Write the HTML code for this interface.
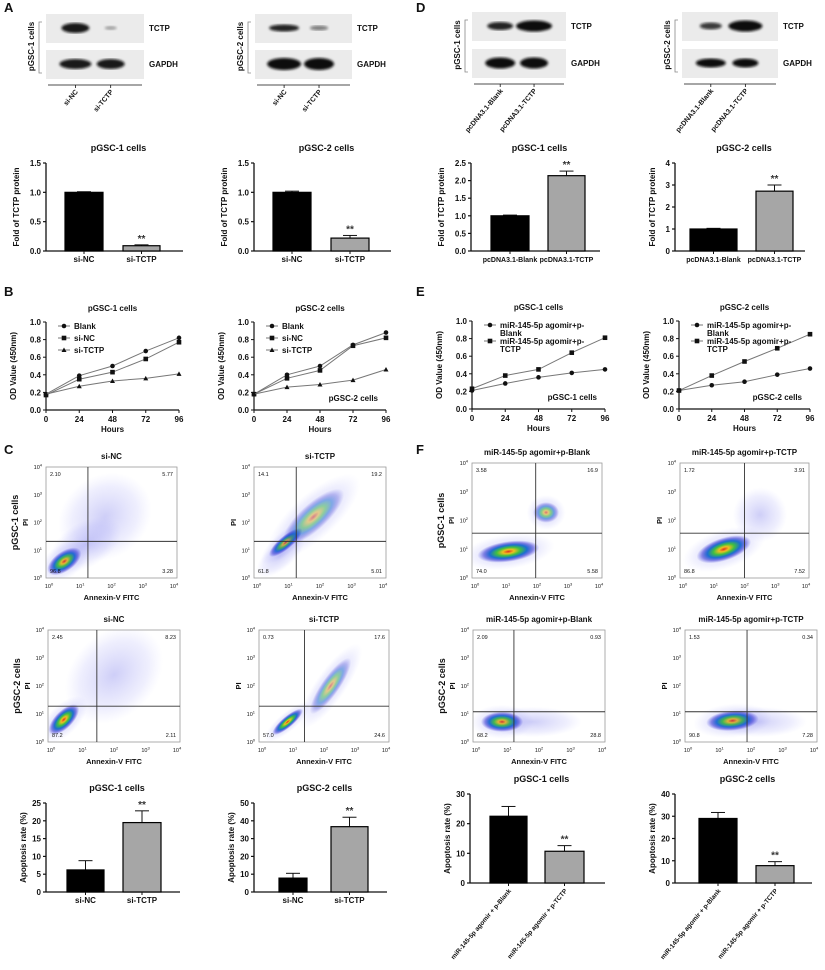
<!DOCTYPE html>
<html><head><meta charset="utf-8"><style>
body{margin:0;background:#fff}
svg{display:block;font-family:"Liberation Sans",Arial,sans-serif;font-weight:bold}
</style></head><body>
<svg id="fig" width="825" height="970" viewBox="0 0 825 970" xmlns="http://www.w3.org/2000/svg">
<defs>
<filter id="blur1"><feGaussianBlur stdDeviation="2.2"/></filter>
<filter id="blur2"><feGaussianBlur stdDeviation="1.2"/></filter>
<radialGradient id="dens">
<stop offset="0" stop-color="#e0301e"/><stop offset="0.18" stop-color="#f0c020"/><stop offset="0.38" stop-color="#40c040"/><stop offset="0.6" stop-color="#1a6fd0"/><stop offset="0.8" stop-color="#3030d0" stop-opacity="0.55"/><stop offset="1" stop-color="#4040e0" stop-opacity="0"/>
</radialGradient>
<radialGradient id="halo">
<stop offset="0" stop-color="#3a3ae0" stop-opacity="0.45"/><stop offset="0.7" stop-color="#5a5af0" stop-opacity="0.18"/><stop offset="1" stop-color="#8080ff" stop-opacity="0"/>
</radialGradient>
</defs>
</svg>
<script>
// ---------- DATA ----------
const barCatsA = ["si-NC","si-TCTP"];
const barA1Vals = [1.0, 0.09]; const barA1Err = [0.01, 0.015];
const barA2Vals = [1.0, 0.22]; const barA2Err = [0.02, 0.045];
const barA1Ticks = ["0.0","0.5","1.0","1.5"];
const barCatsD = ["pcDNA3.1-Blank","pcDNA3.1-TCTP"];
const barD1Vals = [1.0, 2.14]; const barD1Err = [0.02, 0.13];
const barD1Ticks = ["0.0","0.5","1.0","1.5","2.0","2.5"];
const barD2Vals = [1.0, 2.72]; const barD2Err = [0.03, 0.28];
const barD2Ticks = ["0","1","2","3","4"];
const hours = [0,24,48,72,96];
const hourTicks = ["0","24","48","72","96"];
const odTicks = ["0.0","0.2","0.4","0.6","0.8","1.0"];
const b1Blank = [0.18,0.39,0.50,0.67,0.82];
const b1NC = [0.17,0.35,0.43,0.58,0.77];
const b1TCTP = [0.18,0.27,0.33,0.36,0.41];
const b2Blank = [0.18,0.40,0.50,0.74,0.88];
const b2NC = [0.18,0.36,0.45,0.73,0.82];
const b2TCTP = [0.18,0.26,0.29,0.34,0.46];
const e1Blank = [0.21,0.29,0.36,0.41,0.45];
const e1TCTP = [0.23,0.38,0.45,0.64,0.81];
const e2Blank = [0.21,0.27,0.31,0.39,0.46];
const e2TCTP = [0.21,0.38,0.54,0.69,0.85];
const apoCatsC = ["si-NC","si-TCTP"];
const apoC1Vals = [6.2, 19.5]; const apoC1Err = [2.6, 3.3];
const apoC1Ticks = ["0","5","10","15","20","25"];
const apoC2Vals = [7.8, 36.7]; const apoC2Err = [2.7, 5.3];
const apoC2Ticks = ["0","10","20","30","40","50"];
const apoCatsF = ["miR-145-5p agomir + p-Blank","miR-145-5p agomir + p-TCTP"];
const apoF1Vals = [22.5, 10.7]; const apoF1Err = [3.3, 1.9];
const apoF1Ticks = ["0","10","20","30"];
const apoF2Vals = [29.0, 7.8]; const apoF2Err = [2.7, 1.8];
const apoF2Ticks = ["0","10","20","30","40"];
const quadC1 = ["2.10","5.77","96.8","3.28"];
const quadC2 = ["14.1","19.2","61.8","5.01"];
const quadC3 = ["2.45","8.23","87.2","2.11"];
const quadC4 = ["0.73","17.6","57.0","24.6"];
const quadF1 = ["3.58","16.9","74.0","5.58"];
const quadF2 = ["1.72","3.91","86.8","7.52"];
const quadF3 = ["2.09","0.93","68.2","28.8"];
const quadF4 = ["1.53","0.34","90.8","7.28"];

// ---------- HELPERS ----------
const NS="http://www.w3.org/2000/svg";
const svg=document.getElementById('fig');
function mk(tag,attrs,parent){const e=document.createElementNS(NS,tag);for(const k in attrs)e.setAttribute(k,attrs[k]);(parent||svg).appendChild(e);return e;}
function txt(x,y,s,size,anchor,parent,extra){const t=mk('text',Object.assign({x:x,y:y,'font-size':size,'text-anchor':anchor||'middle',fill:'#111'},extra||{}),parent);t.textContent=s;return t;}
function line(x1,y1,x2,y2,w,parent,col){return mk('line',{x1:x1,y1:y1,x2:x2,y2:y2,stroke:col||'#111','stroke-width':w||1},parent);}

[["A",4,12],["B",4,296],["C",4,454],["D",416,12],["E",416,296],["F",416,454]].forEach(p=>{
  const t=txt(p[1],p[2],p[0],13,'start');
  
  
});

// ---------- BLOTS ----------
function blot(cfg){
  const g=mk('g',{});
  
  
  [[cfg.y1,cfg.tctp],[cfg.y2,cfg.gapdh]].forEach((row,ri)=>{
    const r=mk('rect',{x:cfg.x,y:row[0],width:cfg.w,height:29,fill:'#ebebeb'},g);
    
    
    row[1].forEach((b,i)=>{
      const cx=cfg.x+cfg.w*(i?0.66:0.3);
      const e=mk('ellipse',{cx:cx,cy:row[0]+14,rx:b[0],ry:b[1],fill:'#111','fill-opacity':b[2],filter:'url(#blur2)'},g);
      
      
    });
  });
  txt(cfg.x+cfg.w+5,cfg.y1+17,'TCTP',8,'start',g);
  txt(cfg.x+cfg.w+5,cfg.y2+17,'GAPDH',8,'start',g);
  mk('path',{d:`M${cfg.x-4},${cfg.y1+8} h-3 V${cfg.y2+23} h3`,fill:'none',stroke:'#888','stroke-width':0.8},g);
  txt(0,0,cfg.cell,8,'middle',g,{transform:`translate(${cfg.x-12},${(cfg.y1+cfg.y2+29)/2}) rotate(-90)`});
  line(cfg.x+2,cfg.y2+35,cfg.x+cfg.w-2,cfg.y2+35,0.8,g);
  cfg.lanes.forEach((l,i)=>{
    const lx=cfg.x+cfg.w*(i?0.66:0.3);
    line(lx,cfg.y2+35,lx,cfg.y2+38,0.8,g);
    txt(0,0,l,7,'end',g,{transform:`translate(${lx+3},${cfg.y2+42}) rotate(-50)`});
  });
}
blot({name:'blot-a-pgsc1',x:46,w:98,y1:14,y2:50,cell:'pGSC-1 cells',tctp:[[14,5,0.95],[6,2,0.3]],gapdh:[[16,5,0.95],[14,5,0.95]],lanes:barCatsA});
blot({name:'blot-a-pgsc2',x:255,w:97,y1:14,y2:50,cell:'pGSC-2 cells',tctp:[[15,3.5,0.9],[9,2.5,0.5]],gapdh:[[17,6,1],[15,6,1]],lanes:barCatsA});
blot({name:'blot-d-pgsc1',x:472,w:94,y1:12,y2:49,cell:'pGSC-1 cells',tctp:[[13,4,0.9],[18,5.5,1]],gapdh:[[15,5.5,1],[14,5.5,1]],lanes:barCatsD});
blot({name:'blot-d-pgsc2',x:682,w:96,y1:12,y2:49,cell:'pGSC-2 cells',tctp:[[11,3.5,0.8],[17,5.5,1]],gapdh:[[15,4.5,1],[13,4.5,1]],lanes:barCatsD});

// ---------- BAR CHARTS ----------
function barChart(cfg,vals,errs,ticks,cats){
  const g=mk('g',{});
  
  
  const max=parseFloat(ticks[ticks.length-1]);
  const ys=v=>cfg.y0-(v/max)*(cfg.y0-cfg.yT);
  txt((cfg.x0+cfg.xE)/2+4,cfg.yT-12,cfg.title,9,'middle',g);
  line(cfg.x0,cfg.yT,cfg.x0,cfg.y0,1.3,g);
  line(cfg.x0,cfg.y0,cfg.xE,cfg.y0,1.3,g);
  ticks.forEach(t=>{const y=ys(parseFloat(t));line(cfg.x0-3,y,cfg.x0,y,1.2,g);txt(cfg.x0-5,y+3,t,8,'end',g);});
  txt(0,0,cfg.ylab,8,'middle',g,{transform:`translate(${cfg.x0-cfg.ylOff},${(cfg.yT+cfg.y0)/2}) rotate(-90)`});
  vals.forEach((v,i)=>{
    const b=cfg.bars[i];const cx=(b[0]+b[1])/2;
    const eTop=ys(v+errs[i]);
    line(cx,ys(v),cx,eTop,1,g);line(cx-7,eTop,cx+7,eTop,1,g);
    const r=mk('rect',{x:b[0],y:ys(v),width:b[1]-b[0],height:cfg.y0-ys(v),fill:i?'#a6a6a6':'#000',stroke:'#000','stroke-width':1.2},g);
    
    
    line(cx,cfg.y0,cx,cfg.y0+3,1,g);
    if(cfg.rot) txt(0,0,cats[i],6.5,'end',g,{transform:`translate(${cx+3},${cfg.y0+8}) rotate(-50)`});
    else txt(cx,cfg.y0+11,cats[i],cfg.lf||8,'middle',g);
    if(i===cfg.star) txt(cx,eTop-3,'**',10,'middle',g,{fill:'#333'});
  });
}
barChart({name:'bar-a-pgsc1',title:'pGSC-1 cells',x0:46,xE:183,yT:163,y0:251,bars:[[65,103],[123,160]],ylab:'Fold of TCTP protein',ylOff:27,star:1},barA1Vals,barA1Err,barA1Ticks,barCatsA);
barChart({name:'bar-a-pgsc2',title:'pGSC-2 cells',x0:254,xE:391,yT:163,y0:251,bars:[[273,311],[331,369]],ylab:'Fold of TCTP protein',ylOff:27,star:1},barA2Vals,barA2Err,barA1Ticks,barCatsA);
barChart({name:'bar-d-pgsc1',title:'pGSC-1 cells',x0:471,xE:600,yT:163,y0:251,bars:[[491,529],[548,585]],ylab:'Fold of TCTP protein',ylOff:27,star:1,lf:7},barD1Vals,barD1Err,barD1Ticks,barCatsD);
barChart({name:'bar-d-pgsc2',title:'pGSC-2 cells',x0:675,xE:805,yT:163,y0:251,bars:[[690,737],[756,793]],ylab:'Fold of TCTP protein',ylOff:20,star:1,lf:7},barD2Vals,barD2Err,barD2Ticks,barCatsD);
barChart({name:'apoptosis-c-pgsc1',title:'pGSC-1 cells',x0:46,xE:180,yT:803,y0:892,bars:[[67,104],[123,161]],ylab:'Apoptosis rate (%)',ylOff:20,star:1},apoC1Vals,apoC1Err,apoC1Ticks,apoCatsC);
barChart({name:'apoptosis-c-pgsc2',title:'pGSC-2 cells',x0:254,xE:387,yT:803,y0:892,bars:[[279,307],[331,368]],ylab:'Apoptosis rate (%)',ylOff:20,star:1},apoC2Vals,apoC2Err,apoC2Ticks,apoCatsC);
barChart({name:'apoptosis-f-pgsc1',title:'pGSC-1 cells',x0:470,xE:605,yT:794,y0:883,bars:[[490,527],[545,584]],ylab:'Apoptosis rate (%)',ylOff:20,star:1,rot:1},apoF1Vals,apoF1Err,apoF1Ticks,apoCatsF);
barChart({name:'apoptosis-f-pgsc2',title:'pGSC-2 cells',x0:675,xE:812,yT:794,y0:883,bars:[[699,737],[756,794]],ylab:'Apoptosis rate (%)',ylOff:20,star:1,rot:1},apoF2Vals,apoF2Err,apoF2Ticks,apoCatsF);

// ---------- LINE CHARTS ----------
function lineChart(cfg,series,labels,markers){
  const g=mk('g',{});
  
  
  const xs=h=>cfg.x0+(h/96)*(cfg.x96-cfg.x0);
  const ys=v=>cfg.y0-v*(cfg.y0-cfg.y1);
  txt((cfg.x0+cfg.x96)/2,cfg.y1-11,cfg.title,8,'middle',g);
  line(cfg.x0,cfg.y1,cfg.x0,cfg.y0,1.2,g);line(cfg.x0,cfg.y0,cfg.x96,cfg.y0,1.2,g);
  odTicks.forEach(t=>{const y=ys(parseFloat(t));line(cfg.x0-3,y,cfg.x0,y,1,g);txt(cfg.x0-5,y+3,t,8,'end',g);});
  hours.forEach((h,i)=>{line(xs(h),cfg.y0,xs(h),cfg.y0+3,1,g);txt(xs(h),cfg.y0+12,hourTicks[i],8,'middle',g);});
  txt((cfg.x0+cfg.x96)/2,cfg.y0+22,'Hours',8,'middle',g);
  txt(0,0,'OD Value (450nm)',8,'middle',g,{transform:`translate(${cfg.x0-30},${(cfg.y0+cfg.y1)/2}) rotate(-90)`});
  if(cfg.note) txt(cfg.x96-8,cfg.y0-9,cfg.note,8,'end',g);
  function mark(x,y,m,parent){
    if(m==='c') return mk('circle',{cx:x,cy:y,r:2.3,fill:'#111'},parent);
    if(m==='s') return mk('rect',{x:x-2.3,y:y-2.3,width:4.6,height:4.6,fill:'#111'},parent);
    return mk('path',{d:`M${x},${y-2.5} L${x+2.5},${y+2} L${x-2.5},${y+2}Z`,fill:'#111'},parent);
  }
  series.forEach((s,si)=>{
    const p=mk('polyline',{points:s.map((v,i)=>xs(hours[i])+','+ys(v)).join(' '),fill:'none',stroke:'#777','stroke-width':1},g);
    
    
    s.forEach((v,i)=>{const m=mark(xs(hours[i]),ys(v),markers[si],g);
      
      });
    const ly=cfg.y1+4+si*cfg.legStep;
    line(cfg.x0+12,ly,cfg.x0+24,ly,1,g,'#777');mark(cfg.x0+18,ly,markers[si],g);
    const lt=labels[si].split('\n');
    lt.forEach((l,li)=>{const t=txt(cfg.x0+28,ly+3+li*8,l,8,'start',g);
      if(li===0){}});
  });
}
lineChart({name:'growth-b-pgsc1',title:'pGSC-1 cells',x0:46,x96:179,y1:322,y0:410,legStep:12},[b1Blank,b1NC,b1TCTP],['Blank','si-NC','si-TCTP'],['c','s','t']);
lineChart({name:'growth-b-pgsc2',title:'pGSC-2 cells',x0:254,x96:386,y1:322,y0:410,legStep:12,note:'pGSC-2 cells'},[b2Blank,b2NC,b2TCTP],['Blank','si-NC','si-TCTP'],['c','s','t']);
lineChart({name:'growth-e-pgsc1',title:'pGSC-1 cells',x0:472,x96:605,y1:321,y0:409,legStep:16,note:'pGSC-1 cells'},[e1Blank,e1TCTP],['miR-145-5p agomir+p-\nBlank','miR-145-5p agomir+p-\nTCTP'],['c','s']);
lineChart({name:'growth-e-pgsc2',title:'pGSC-2 cells',x0:679,x96:810,y1:321,y0:409,legStep:16,note:'pGSC-2 cells'},[e2Blank,e2TCTP],['miR-145-5p agomir+p-\nBlank','miR-145-5p agomir+p-\nTCTP'],['c','s']);

// ---------- FLOW PLOTS ----------
function flow(cfg,quad){
  const g=mk('g',{});
  
  
  const W=cfg.x2-cfg.x1,H=cfg.y2-cfg.y1;
  txt((cfg.x1+cfg.x2)/2,cfg.y1-8,cfg.title,8,'middle',g);
  const cp=mk('clipPath',{id:'cp'+cfg.name},g);
  mk('rect',{x:cfg.x1,y:cfg.y1,width:W,height:H},cp);
  const bl=mk('g',{'clip-path':`url(#cp${cfg.name})`},g);
  cfg.blobs.forEach(b=>{
    const cx=cfg.x1+b[0]*W,cy=cfg.y1+b[1]*H;
    const tr=`rotate(${b[4]} ${cx} ${cy})`;
    mk('ellipse',{cx:cx,cy:cy,rx:b[2]*W*1.5,ry:b[3]*H*1.7,fill:'url(#halo)',transform:tr,opacity:0.55},bl);
    if(b[5]) mk('ellipse',{cx:cx,cy:cy,rx:b[2]*W,ry:b[3]*H,fill:'url(#dens)',transform:tr,opacity:b[5]},bl);
  });
  mk('rect',{x:cfg.x1,y:cfg.y1,width:W,height:H,fill:'none',stroke:'#999','stroke-width':0.8},g);
  const gx=cfg.x1+cfg.gx*W,gy=cfg.y1+cfg.gy*H;
  line(gx,cfg.y1,gx,cfg.y2,0.9,g,'#333');line(cfg.x1,gy,cfg.x2,gy,0.9,g,'#333');
  txt(cfg.x1+4,cfg.y1+9,quad[0],5.5,'start',g,{'font-weight':'normal'});
  txt(cfg.x2-4,cfg.y1+9,quad[1],5.5,'end',g,{'font-weight':'normal'});
  txt(cfg.x1+4,cfg.y2-5,quad[2],5.5,'start',g,{'font-weight':'normal'});
  txt(cfg.x2-4,cfg.y2-5,quad[3],5.5,'end',g,{'font-weight':'normal'});
  for(let i=0;i<5;i++){
    const x=cfg.x1+3+i*(W-6)/4,y=cfg.y2-i*(H)/4;
    const a=txt(x,cfg.y2+10,'10',5.5,'middle',g,{'font-weight':'normal'});
    const s1=mk('tspan',{dy:-2.5,'font-size':4},a);s1.textContent=String(i);
    const b=txt(cfg.x1-4,y+2,'10',5.5,'end',g,{'font-weight':'normal'});
    const s2=mk('tspan',{dy:-2.5,'font-size':4},b);s2.textContent=String(i);
  }
  txt((cfg.x1+cfg.x2)/2,cfg.y2+22,'Annexin-V  FITC',7.5,'middle',g);
  txt(0,0,'PI',7.5,'middle',g,{transform:`translate(${cfg.x1-18},${(cfg.y1+cfg.y2)/2}) rotate(-90)`});
  if(cfg.cell) txt(0,0,cfg.cell,9,'middle',g,{transform:`translate(${cfg.x1-28},${(cfg.y1+cfg.y2)/2}) rotate(-90)`});
}
flow({name:'flow-c-pgsc1-sinc',title:'si-NC',cell:'pGSC-1 cells',x1:46,x2:177,y1:467,y2:578,gx:0.32,gy:0.67,
 blobs:[[0.14,0.85,0.15,0.09,-35,1],[0.45,0.45,0.25,0.22,-35,0],[0.3,0.7,0.2,0.12,-30,0]]},quadC1);
flow({name:'flow-c-pgsc1-sitctp',title:'si-TCTP',x1:254,x2:386,y1:467,y2:578,gx:0.32,gy:0.67,
 blobs:[[0.24,0.68,0.16,0.06,-40,1],[0.45,0.45,0.3,0.12,-42,0.5],[0.2,0.8,0.15,0.07,-40,0]]},quadC2);
flow({name:'flow-c-pgsc2-sinc',title:'si-NC',cell:'pGSC-2 cells',x1:48,x2:180,y1:630,y2:742,gx:0.37,gy:0.68,
 blobs:[[0.12,0.8,0.15,0.08,-45,1],[0.5,0.4,0.28,0.22,-45,0]]},quadC3);
flow({name:'flow-c-pgsc2-sitctp',title:'si-TCTP',x1:259,x2:389,y1:630,y2:742,gx:0.35,gy:0.68,
 blobs:[[0.22,0.82,0.15,0.05,-40,1],[0.55,0.5,0.26,0.08,-55,0.5]]},quadC4);
flow({name:'flow-f-pgsc1-pblank',title:'miR-145-5p agomir+p-Blank',cell:'pGSC-1 cells',x1:472,x2:602,y1:463,y2:578,gx:0.49,gy:0.61,
 blobs:[[0.28,0.77,0.24,0.09,-8,1],[0.57,0.43,0.1,0.09,0,0.6]]},quadF1);
flow({name:'flow-f-pgsc1-ptctp',title:'miR-145-5p agomir+p-TCTP',x1:680,x2:809,y1:463,y2:578,gx:0.5,gy:0.61,
 blobs:[[0.34,0.75,0.22,0.1,-18,1],[0.62,0.45,0.14,0.14,0,0]]},quadF2);
flow({name:'flow-f-pgsc2-pblank',title:'miR-145-5p agomir+p-Blank',cell:'pGSC-2 cells',x1:473,x2:605,y1:630,y2:742,gx:0.31,gy:0.73,
 blobs:[[0.22,0.82,0.16,0.09,0,1],[0.45,0.82,0.25,0.08,0,0]]},quadF3);
flow({name:'flow-f-pgsc2-ptctp',title:'miR-145-5p agomir+p-TCTP',x1:685,x2:817,y1:630,y2:742,gx:0.47,gy:0.73,
 blobs:[[0.36,0.81,0.2,0.09,-5,1],[0.55,0.82,0.25,0.08,0,0]]},quadF4);
</script>
</body></html>
